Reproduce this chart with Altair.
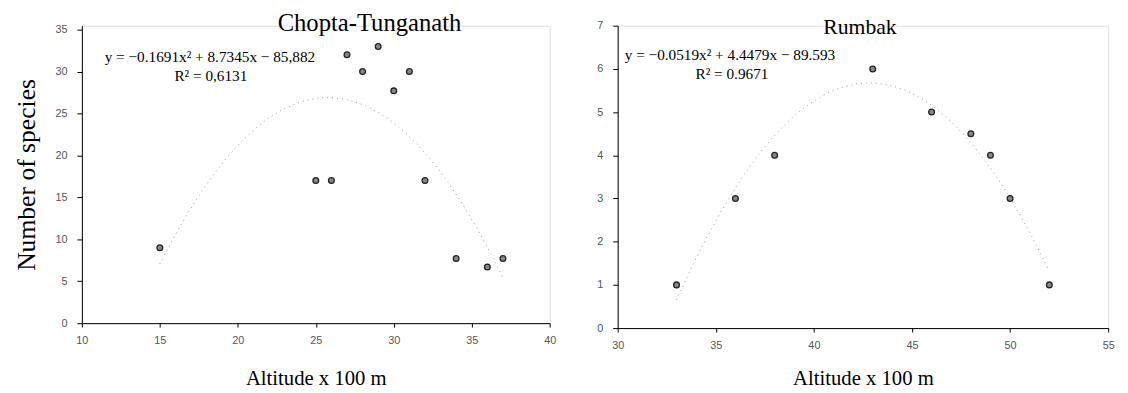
import altair as alt
import pandas as pd

# Chopta-Tunganath
ct_alt = [15, 25, 26, 27, 28, 29, 30, 31, 32, 34, 36, 37]
ct_species = [9, 17, 17, 32, 30, 33, 27.7, 30, 17, 7.7, 6.7, 7.7]
ct_title = "Chopta-Tunganath"
ct_eq = "y = \u22120.1691x\u00b2 + 8.7345x \u2212 85,882"
ct_r2 = "R\u00b2 = 0,6131"

# Rumbak
rb_alt = [33, 36, 38, 43, 46, 48, 49, 50, 52]
rb_species = [1, 3, 4, 6, 5, 4.5, 4, 3, 1]
rb_title = "Rumbak"
rb_eq = "y = \u22120.0519x\u00b2 + 4.4479x \u2212 89.593"
rb_r2 = "R\u00b2 = 0.9671"

SERIF = "Liberation Serif"
SANS = "Liberation Sans"


def label(text, x, y, size, baseline="middle"):
    return alt.Chart(pd.DataFrame({"t": [text]})).mark_text(
        font=SERIF, fontSize=size, color="black", align="center", baseline=baseline
    ).encode(text="t:N", x=alt.value(x), y=alt.value(y))


def panel(xs, ys, xdom, ydom, xticks, yticks, title, eq, r2, w, h, ytitle,
          title_pos, title_size, eq_pos, r2_pos, xtitle_pad):
    df = pd.DataFrame({"alt": xs, "species": ys})
    base = alt.Chart(df)
    yaxis = alt.Axis(values=yticks, grid=False, domainColor="black", tickColor="black",
                     tickSize=5, labelFont=SANS, labelFontSize=11, labelColor="#555",
                     labelPadding=10, titleFont=SERIF, titleFontSize=26,
                     titleFontWeight="normal", titleColor="black", titlePadding=16)
    xaxis = alt.Axis(values=xticks, grid=False, domainColor="black", tickColor="black",
                     tickSize=4, labelFont=SANS, labelFontSize=11, labelColor="#555",
                     labelPadding=8, titleFont=SERIF, titleFontSize=21,
                     titleFontWeight="normal", titleColor="black",
                     titlePadding=xtitle_pad, labelFlush=False)
    x = alt.X("alt:Q", scale=alt.Scale(domain=xdom, nice=False), axis=xaxis,
              title="Altitude x 100 m")
    y = alt.Y("species:Q", scale=alt.Scale(domain=ydom, nice=False), axis=yaxis,
              title=ytitle if ytitle else None)
    trend = base.transform_regression("alt", "species", method="poly", order=2).mark_line(
        color="#999", strokeWidth=1, strokeDash=[1, 4]
    ).encode(x=x, y=y)
    pts = base.mark_point(shape="circle", filled=True, size=34, color="#888",
                          stroke="#222", strokeWidth=1.3, opacity=1).encode(x=x, y=y)
    t = label(title, title_pos[0], title_pos[1], title_size, baseline="alphabetic")
    e1 = label(eq, eq_pos[0], eq_pos[1], 15.5)
    e2 = label(r2, r2_pos[0], r2_pos[1], 15.5)
    return alt.layer(trend, pts, t, e1, e2).properties(width=w, height=h)


left = panel(ct_alt, ct_species, [10, 40], [0, 35.47], [10, 15, 20, 25, 30, 35, 40],
             [0, 5, 10, 15, 20, 25, 30, 35], ct_title, ct_eq, ct_r2,
             475, 302, "Number of species", (292, 5), 25, (130, 32), (131, 51), 22)
right = panel(rb_alt, rb_species, [30, 55], [0, 7], [30, 35, 40, 45, 50, 55],
              [0, 1, 2, 3, 4, 5, 6, 7], rb_title, rb_eq, rb_r2,
              498, 307, None, (246, 8), 22, (114, 30), (116, 49), 17)

chart = alt.hconcat(left, right, spacing=40).properties(
    padding={"top": -1, "left": 5, "right": 5, "bottom": 5}
).configure_view(stroke=None).configure(background="white")

chart.save("out.html", embed_options={"renderer": "svg", "actions": False})
